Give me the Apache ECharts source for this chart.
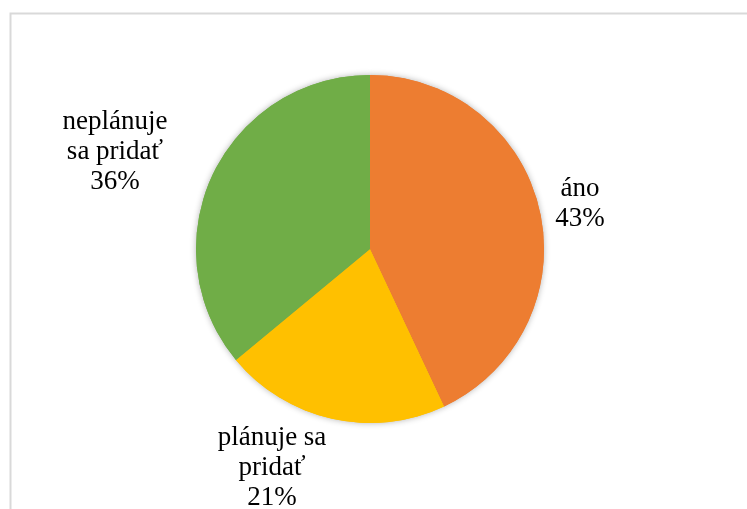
<!DOCTYPE html>
<html>
<head>
<meta charset="utf-8">
<script src="https://cdn.jsdelivr.net/npm/echarts@6/dist/echarts.min.js"></script>
<style>
html,body{margin:0;padding:0;background:#fff;}
#c{width:747px;height:509px;}
</style>
</head>
<body>
<div id="c"></div>
<script>
const categories = ['áno', 'plánuje sa\npridať', 'neplánuje\nsa pridať'];
const values = [43, 21, 36];
const colors = ['#ED7D31', '#FFC000', '#70AD47'];

const chart = echarts.init(document.getElementById('c'), null, {renderer: 'canvas'});
const labelPos = [[580, 204], [272, 468], [115, 152]];
const pieData = categories.map((n, i) => ({name: n, value: values[i], itemStyle: {color: colors[i]}}));
chart.setOption({
  animation: false,
  backgroundColor: '#fff',
  graphic: [{
    type: 'rect',
    shape: {x: 10.5, y: 13.5, width: 800, height: 600},
    style: {fill: 'none', stroke: '#d9d9d9', lineWidth: 2},
    z: -1
  }],
  series: [{
    type: 'pie',
    silent: true,
    center: [370, 249],
    radius: 174,
    startAngle: 90,
    clockwise: true,
    z: 1,
    data: pieData,
    itemStyle: {
      shadowBlur: 6,
      shadowColor: 'rgba(0,0,0,0.3)'
    },
    label: {show: false},
    labelLine: {show: false},
    emphasis: {disabled: true}
  }, {
    type: 'pie',
    center: [370, 249],
    radius: 174,
    startAngle: 90,
    clockwise: true,
    z: 2,
    data: pieData,
    label: {
      show: true,
      position: 'outside',
      formatter: p => p.name + '\n' + p.value + '%',
      fontFamily: '"Liberation Serif", "Times New Roman", serif',
      fontSize: 27,
      lineHeight: 30,
      color: '#000',
      align: 'center'
    },
    labelLine: {show: false},
    labelLayout: function (params) {
      const p = labelPos[params.dataIndex];
      return {x: p[0], y: p[1], align: 'center', verticalAlign: 'middle'};
    },
    emphasis: {disabled: true}
  }]
});
</script>
</body>
</html>
